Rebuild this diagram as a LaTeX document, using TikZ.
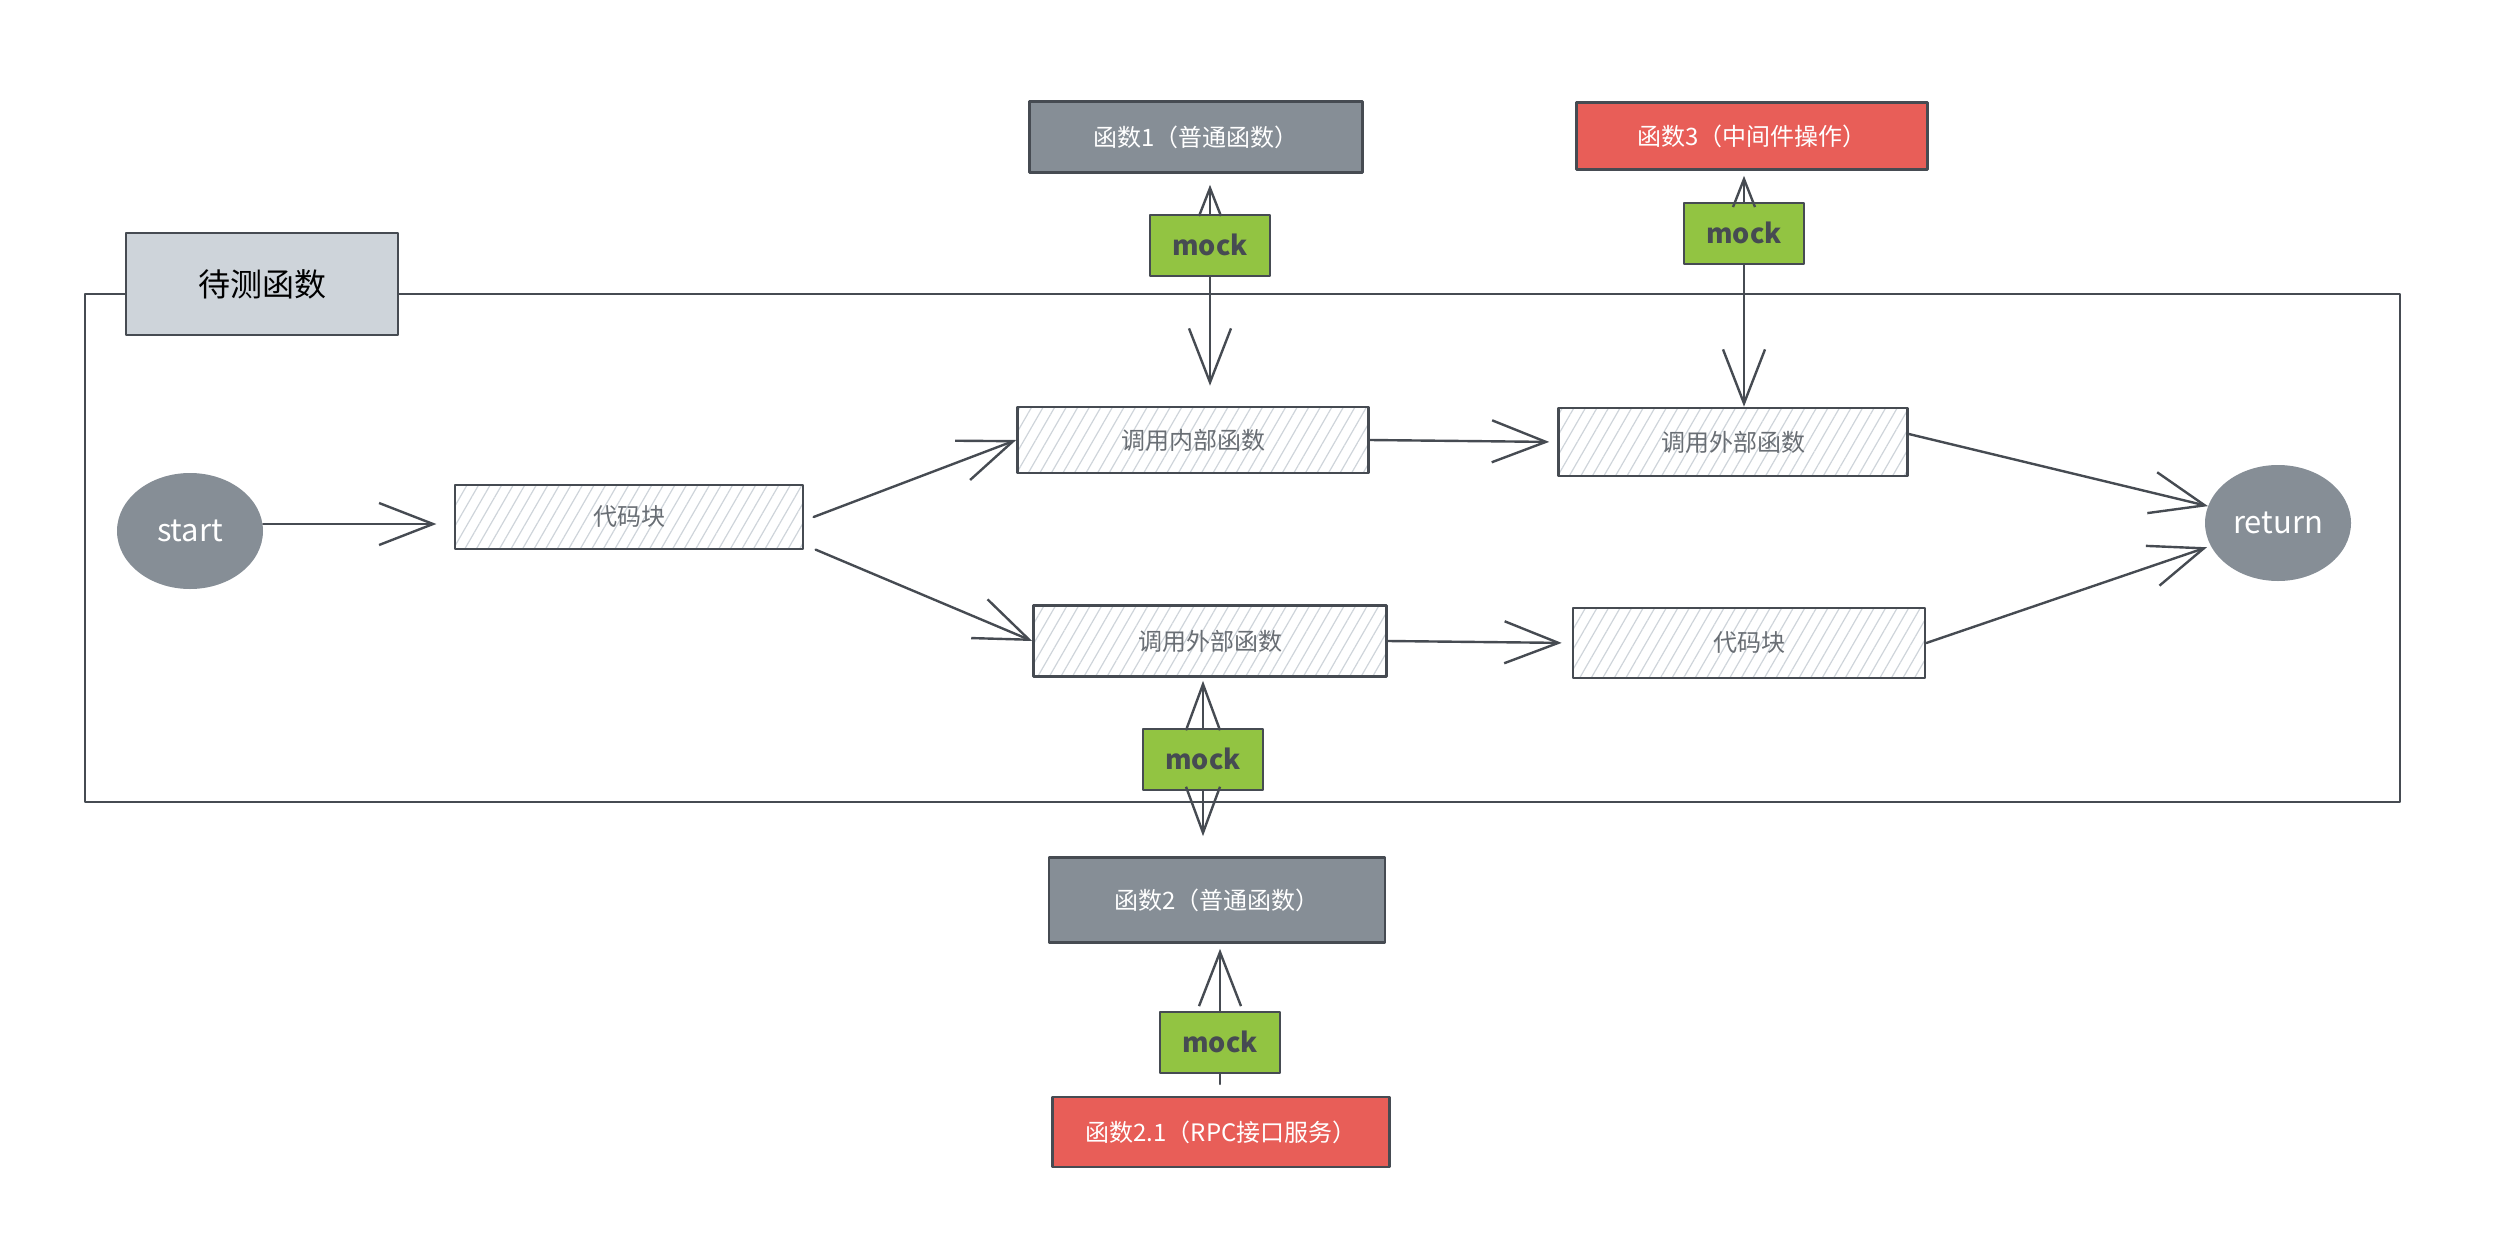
\documentclass[tikz,border=0pt]{standalone}
\usepackage{fontspec}
\setmainfont{Noto Sans CJK SC}
\usetikzlibrary{arrows.meta,shapes,patterns.meta}
\newcommand\fsz[1]{\fontsize{#1}{#1}\selectfont}
\definecolor{edge_dark}{RGB}{70,75,82}
\definecolor{node_gray}{RGB}{134,142,150}
\definecolor{node_red}{RGB}{232,94,88}
\definecolor{node_green}{RGB}{146,196,66}
\definecolor{node_light}{RGB}{206,212,218}
\definecolor{text_gray}{RGB}{105,110,116}

\begin{document}
\begin{tikzpicture}[x=1pt,y=-1pt,line cap=round,line join=round]
    \tikzstyle{box}=[draw=edge_dark, line width=2.6pt, rectangle, inner sep=0pt, font=\fsz{24}]
    \tikzstyle{block}=[style=box, pattern={Lines[angle=60,distance=10pt,line width=1.2pt]}, pattern color=node_light, text=text_gray]
    \tikzstyle{func}=[style=box, fill=node_gray, text=white]
    \tikzstyle{funcext}=[style=box, fill=node_red, text=white]
    \tikzstyle{mockbox}=[draw=edge_dark, line width=2pt, fill=node_green, text=edge_dark, inner sep=0pt, minimum width=120pt, minimum height=61pt, font=\fsz{27}\bfseries]
    \tikzstyle{terminal}=[ellipse, fill=node_gray, text=white, inner sep=0pt, minimum width=146pt, minimum height=116pt, font=\fsz{31}]
    \tikzstyle{call}=[draw=edge_dark, line width=2.4pt, -{Straight Barb[length=54pt,width=42pt]}]
    \tikzstyle{midtip}=[-{Straight Barb[length=46pt,width=34pt]}]
    \tikzstyle{smalltip}=[-{Straight Barb[length=28pt,width=22pt]}]

    \useasboundingbox (0,0) rectangle (2504,1234);

    % frame of the function under test
    \node[draw=edge_dark, line width=2.4pt, inner sep=0pt, minimum width=2315pt, minimum height=508pt] (body) at (1242.5,548) {};
    \node[box, fill=node_light, text=black, font=\fsz{32}, minimum width=272pt, minimum height=102pt] (title) at (262,284) {待测函数};

    \node[terminal] (start) at (190,531)  {start};
    \node[terminal] (ret)   at (2278,523) {return};

    \node[block, minimum width=348pt, minimum height=64pt] (blk1)  at (629,517)  {代码块};
    \node[block, minimum width=351pt, minimum height=66pt] (inner) at (1193,440) {调用内部函数};
    \node[block, minimum width=349pt, minimum height=68pt] (ext1)  at (1733,442) {调用外部函数};
    \node[block, minimum width=353pt, minimum height=71pt] (ext2)  at (1210,641) {调用外部函数};
    \node[block, minimum width=352pt, minimum height=70pt] (blk2)  at (1749,643) {代码块};

    \node[func,    minimum width=333pt, minimum height=71pt] (fn1)  at (1196,137)  {函数1（普通函数）};
    \node[funcext, minimum width=351pt, minimum height=67pt] (fn3)  at (1752,136)  {函数3（中间件操作）};
    \node[func,    minimum width=336pt, minimum height=85pt] (fn2)  at (1217,900)  {函数2（普通函数）};
    \node[funcext, minimum width=337pt, minimum height=70pt] (fn21) at (1221,1132) {函数2.1（RPC接口服务）};

    \node[mockbox] (mock1) at (1210,245)  {mock};
    \node[mockbox] (mock3) at (1744,233)  {mock};
    \node[mockbox] (mock2) at (1203,759)  {mock};
    \node[mockbox] (mock4) at (1220,1042) {mock};
    \coordinate (stub) at (1220,1084);

    \path[every edge/.style={call}]
     ([yshift=7pt]start.east) edge[shorten >=18pt] ([yshift=-7pt]blk1.west)
     ([xshift=10pt]blk1.east) edge (inner.west)
     ([xshift=12pt]blk1.south east) edge (ext2.west)
     (inner.east) edge[shorten >=8pt] (ext1.west)
     (ext2.east) edge[shorten >=10pt] (blk2.west)
     ([yshift=8pt]ext1.east) edge (ret)
     (blk2.east) edge[shorten >=4pt] (ret);

    \path[every edge/.style={call}]
     (mock1.north) edge[smalltip, shorten >=11pt] (mock1.north |- fn1.south)
     (mock1.south) edge[shorten >=20pt] (mock1.south |- inner.north)
     (mock3.north) edge[smalltip, shorten >=5pt] (mock3.north |- fn3.south)
     (mock3.south) edge (mock3.south |- ext1.north)
     (mock2.north) edge[midtip, shorten >=3pt] (mock2.north |- ext2.south)
     (mock2.south) edge[midtip, shorten >=20pt] (mock2.south |- fn2.north)
     (mock4.north) edge[shorten >=5pt] (mock4.north |- fn2.south)
     (mock4.south) edge[-] (stub);
\end{tikzpicture}
\end{document}
